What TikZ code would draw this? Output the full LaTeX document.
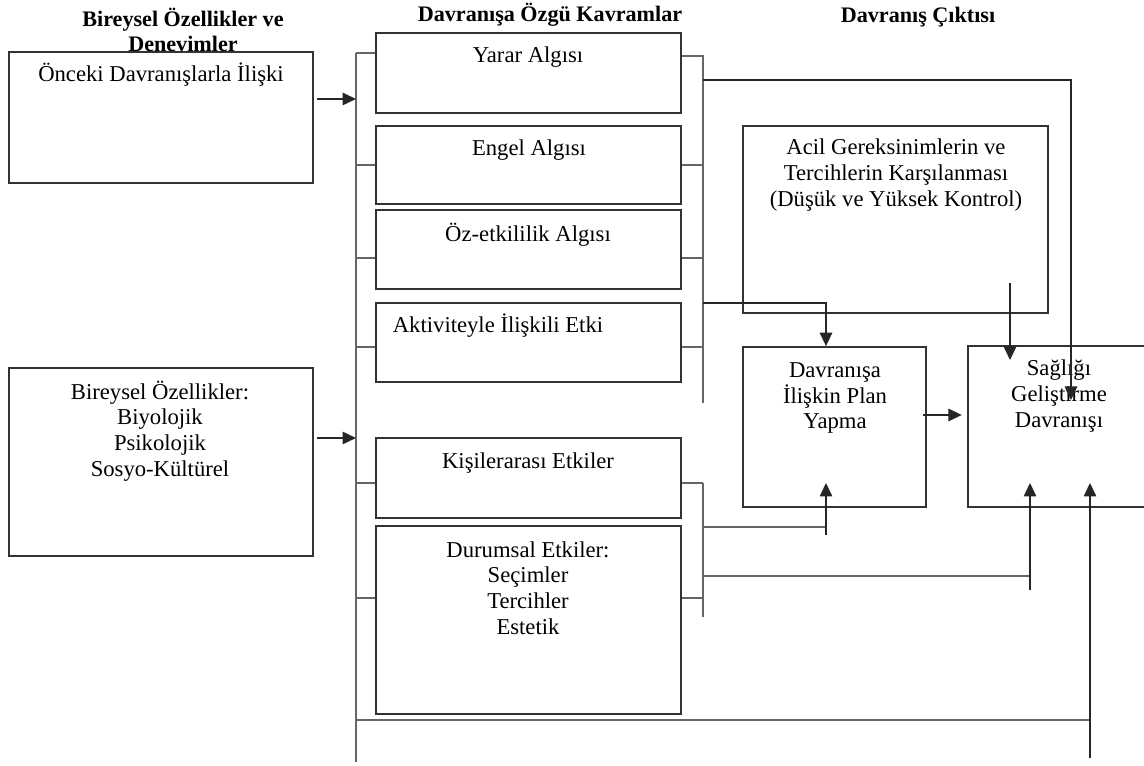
\documentclass[tikz,border=0pt]{standalone}
\usepackage{fontspec}
\setmainfont{Liberation Serif}
\usetikzlibrary{arrows.meta,fit}

\tikzset{
  box/.style={draw=black!80, line width=1pt, fill=white, inner sep=0pt},
  txt/.style={font=\fontsize{12.9}{14.6}\selectfont, align=center, inner sep=0pt},
  hdr/.style={font=\bfseries\fontsize{12.6}{14.2}\selectfont, align=center, inner sep=0pt},
  bus/.style={draw=black!60, line width=0.9pt},
  arr/.style={draw=black!85, line width=0.9pt, -{Triangle[length=0.27cm,width=0.25cm]}}
}

\begin{document}
\begin{tikzpicture}[x=0.02cm,y=-0.02cm]
\useasboundingbox (0,0) rectangle (1144,766);

% headings
\node[hdr] (headind) at (183,30) {Bireysel Özellikler ve\\Denevimler};
\node[hdr] (headbeh) at (550,15) {Davranışa Özgü Kavramlar};
\node[hdr] (headout) at (918,17) {Davranış Çıktısı};

% left column
\node[box, fit={(9,52) (313,183)}] (prev) {};
\node[txt] (prevtxt) at (161,75) {Önceki Davranışlarla İlişki};
\node[box, fit={(9,368) (313,556)}] (indiv) {};
\node[txt] (indivtxt) at (160,431) {Bireysel Özellikler:\\Biyolojik\\Psikolojik\\Sosyo-Kültürel};

% middle column
\node[box, fit={(376,33) (681,113)}] (yarar) {};
\node[txt] (yarartxt) at (528,57) {Yarar Algısı};
\node[box, fit={(376,126) (681,204)}] (engel) {};
\node[txt] (engeltxt) at (529,150) {Engel Algısı};
\node[box, fit={(376,210) (681,289)}] (oz) {};
\node[txt] (oztxt) at (528,235) {Öz-etkililik Algısı};
\node[box, fit={(376,303) (681,382)}] (akt) {};
\node[txt] (akttxt) at (498,326) {Aktiviteyle İlişkili Etki};
\node[box, fit={(376,438) (681,518)}] (kisi) {};
\node[txt] (kisitxt) at (528,463) {Kişilerarası Etkiler};
\node[box, fit={(376,526) (681,714)}] (durum) {};
\node[txt] (durumtxt) at (528,588) {Durumsal Etkiler:\\Seçimler\\Tercihler\\Estetik};

% right column
\node[box, fit={(743,126) (1048,313)}] (acil) {};
\node[txt] (aciltxt) at (896,175) {Acil Gereksinimlerin ve\\Tercihlerin Karşılanması\\(Düşük ve Yüksek Kontrol)};
\node[box, fit={(743,347) (926,507)}] (plan) {};
\node[txt] (plantxt) at (835,398) {Davranışa\\İlişkin Plan\\Yapma};
\node[box, fit={(968,346) (1160,507)}] (saglik) {};
\node[txt] (sagliktxt) at (1059,396) {Sağlığı\\Geliştirme\\Davranışı};

% buses
\coordinate (lbtop) at (356,53);
\coordinate (lbbot) at (356,762);
\coordinate (rbtop) at (703,55);
\coordinate (rbend) at (703,403);
\coordinate (rctop) at (703,483);
\coordinate (rcend) at (703,617);
\draw[bus] (lbtop) -- (lbbot);
\draw[bus] (rbtop) -- (rbend);
\draw[bus] (rctop) -- (rcend);
\foreach \b/\y in {yarar/53, engel/165, oz/258, akt/347, kisi/483, durum/598}
  \draw[bus] (lbtop |- 0,\y) -- (\b.west |- 0,\y);
\foreach \b/\y in {yarar/56, engel/165, oz/258, akt/347}
  \draw[bus] (\b.east |- 0,\y) -- (rbtop |- 0,\y);
\foreach \b/\y in {kisi/483, durum/598}
  \draw[bus] (\b.east |- 0,\y) -- (rctop |- 0,\y);

% into the middle column
\draw[arr, shorten <=2pt] (prev.east |- 0,99) -- (lbtop |- 0,99);
\draw[arr, shorten <=2pt] (indiv.east |- 0,438) -- (lbtop |- 0,438);

% to the outcome
\coordinate (sgtop) at (1071,400);
\coordinate (acilout) at (1010,283);
\draw[arr] (rbtop |- 0,80) -| (sgtop);
\draw[arr] (rbtop |- 0,303) -| ([xshift=-0.17cm]plan.north);
\draw[arr] (acilout) -- (acilout |- 0,360);
\draw[arr, shorten >=3pt] ([xshift=-2pt]plan.east |- 0,415) -- (saglik.west |- 0,415);

\coordinate (planin) at (826,483);
\coordinate (sgin1) at (1030,483);
\coordinate (sgin2) at (1090,483);
\draw[bus] (rctop |- 0,527) -| (826,535);
\draw[arr] (826,535) -- (planin);
\draw[bus] (rctop |- 0,576) -| (1030,590);
\draw[arr] (1030,590) -- (sgin1);
\draw[bus] (lbbot |- 0,720) -| (1090,758);
\draw[arr] (1090,758) -- (sgin2);
\end{tikzpicture}
\end{document}
